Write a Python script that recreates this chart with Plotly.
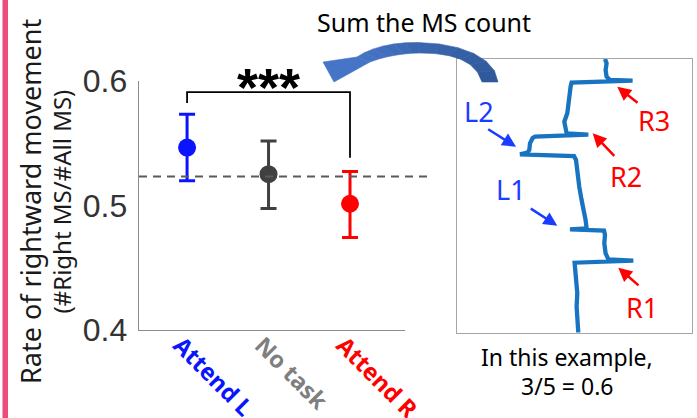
import plotly.graph_objects as go

# ---------------- data ----------------
categories = ["Attend L", "No task", "Attend R"]
cat_colors = ["#0a14ff", "#7f7f7f", "#ff0000"]
marker_colors = ["#0a14ff", "#404040", "#ff0000"]
means = [0.5465, 0.5252, 0.5014]
err_hi = [0.5733, 0.5519, 0.5273]
err_lo = [0.5198, 0.4976, 0.4743]
baseline = 0.5233
y_ticks = [0.4, 0.5, 0.6]
bracket_y = 0.591
bracket_left_end = 0.5824
bracket_right_end = 0.5383

# example eye trace (horizontal position vs time, arbitrary units)
trace_x = [121, 120, 119.3, 120, 118.7, 118, 117.3, 176, 151, 148.3, 147, 147.7, 146.7,
           112.7, 129.3, 128.3, 126, 124.3, 122, 120, 118.7, 116.7, 62.7, 70, 72, 72.7,
           75.3, 77.7, 131, 109.3, 107.7, 107, 110, 111, 112.7, 113.3, 114.3, 175.3,
           152.7, 149.3, 148.3, 149.3, 147.7]
trace_t = [273.7, 261, 247.7, 234.3, 221, 211, 203.7, 201.7, 200.3, 194.3, 184.3, 176,
           171.7, 170.3, 169.3, 161, 151, 141, 128, 114.3, 101, 97, 95.3, 93.7, 91, 84.3,
           79, 77.7, 75.7, 74.3, 68.3, 62.7, 54.3, 44.3, 34.3, 27.7, 23.7, 21.7, 21,
           17.7, 11, 4.3, 0]

W, H = 697, 418
def px(x):
    return x / W
def py(y):
    return 1 - y / H

fig = go.Figure()

xpos = [1, 2, 3]
for i in range(3):
    fig.add_trace(go.Scatter(
        x=[xpos[i]], y=[means[i]], mode="markers",
        marker=dict(size=18, color=marker_colors[i]),
        error_y=dict(type="data", symmetric=False,
                     array=[err_hi[i] - means[i]], arrayminus=[means[i] - err_lo[i]],
                     color=marker_colors[i], thickness=3, width=8),
        showlegend=False, hoverinfo="skip", xaxis="x", yaxis="y"))

fig.add_trace(go.Scatter(x=trace_x, y=trace_t, mode="lines",
                         line=dict(color="#1874c0", width=4.3),
                         showlegend=False, hoverinfo="skip", xaxis="x2", yaxis="y2"))

ticktext = [f'<span style="color:{c}">{t}</span>' for t, c in zip(categories, cat_colors)]

fig.update_layout(
    template="none",
    width=W, height=H,
    margin=dict(l=0, r=0, t=0, b=0, pad=0, autoexpand=False),
    showlegend=False,
    paper_bgcolor="white", plot_bgcolor="rgba(0,0,0,0)",
    xaxis=dict(domain=[px(139), px(405)], range=[0.41, 3.675], automargin=False,
               tickvals=xpos, ticktext=ticktext, tickangle=45,
               ticklabelshift=-7, ticklabelstandoff=-9,
               tickfont=dict(family="Noto Sans", size=23.5, weight="bold"),
               showline=True, linecolor="#8c8c8c", linewidth=1.3,
               showgrid=False, zeroline=False, ticks="", anchor="y"),
    yaxis=dict(domain=[py(330), py(81)], range=[0.4, 0.6], automargin=False,
               tickvals=y_ticks, ticktext=[f"{v:.1f}" for v in y_ticks],
               ticklabelstandoff=4,
               tickfont=dict(family="Liberation Sans", size=32, color="#333333"),
               showline=True, linecolor="#8c8c8c", linewidth=1.3,
               showgrid=False, zeroline=False, ticks="", anchor="x"),
    xaxis2=dict(domain=[px(457.3), px(691.7)], range=[0, 234.4], anchor="y2", automargin=False,
                showline=True, mirror=True, linecolor="#a6a6a6", linewidth=1,
                showticklabels=False, ticks="", showgrid=False, zeroline=False),
    yaxis2=dict(domain=[py(332.7), py(59)], range=[273.7, 0], anchor="x2", automargin=False,
                showline=True, mirror=True, linecolor="#a6a6a6", linewidth=1,
                showticklabels=False, ticks="", showgrid=False, zeroline=False),
)

shapes = []
# pink side bar
shapes.append(dict(type="rect", xref="paper", yref="paper", x0=px(2.5), x1=px(8), y0=0, y1=1,
                   fillcolor="#ee4b7b", line=dict(width=0), layer="above"))
# chance baseline
shapes.append(dict(type="line", xref="paper", yref="y", x0=px(139), x1=px(427),
                   y0=baseline, y1=baseline, line=dict(color="#5a5a5a", width=1.8, dash="8px,6px")))
# significance bracket
shapes.append(dict(type="path", xref="x", yref="y",
                   path=f"M 1,{bracket_left_end} L 1,{bracket_y} L 3,{bracket_y} L 3,{bracket_right_end}",
                   line=dict(color="black", width=1.8)))

# ---- curved decorative arrow with a light-to-dark gradient ----
def bez(p0, p1, p2, p3, t):
    u = 1 - t
    return (u**3 * p0[0] + 3 * u * u * t * p1[0] + 3 * u * t * t * p2[0] + t**3 * p3[0],
            u**3 * p0[1] + 3 * u * u * t * p1[1] + 3 * u * t * t * p2[1] + t**3 * p3[1])

# outer edge (head -> tail), inner edge (head -> tail), each two cubic pieces
outer = [((357, 57), (370, 48), (392, 42), (418, 42.5)),
         ((418, 42.5), (462, 43), (496, 58), (498, 82))]
inner = [((370, 62), (385, 56), (405, 53), (420, 53)),
         ((420, 53), (452, 53), (476, 60), (482, 82))]
N = 6
opts, ipts = [], []
for seg_o, seg_i in zip(outer, inner):
    for k in range(N):
        t = k / N
        opts.append(bez(*seg_o, t))
        ipts.append(bez(*seg_i, t))
opts.append(outer[-1][3])
ipts.append(inner[-1][3])

def mix(c1, c2, f):
    a = [int(c1[i:i + 2], 16) for i in (1, 3, 5)]
    b = [int(c2[i:i + 2], 16) for i in (1, 3, 5)]
    return "#" + "".join(f"{round(a[j] + (b[j] - a[j]) * f):02x}" for j in range(3))

c_head, c_tail = "#4674c6", "#2f5899"
def poly(points):
    return "M " + " L ".join(f"{px(a):.5f},{py(b):.5f}" for a, b in points) + " Z"

# head
shapes.append(dict(type="path", xref="paper", yref="paper",
                   path=poly([(357, 57), (323, 62), (334, 82), (370, 62)]),
                   fillcolor=c_head, line=dict(color=c_head, width=0.6)))
nseg = len(opts) - 1
for k in range(nseg):
    col = mix(c_head, c_tail, (k + 0.5) / nseg)
    shapes.append(dict(type="path", xref="paper", yref="paper",
                       path=poly([opts[k], opts[k + 1], ipts[k + 1], ipts[k]]),
                       fillcolor=col, line=dict(color=col, width=0.6)))
fig.update_layout(shapes=shapes)

ann = []
# y axis title
ann.append(dict(text="Rate of rightward movement", xref="paper", yref="paper",
                x=px(30), y=py(202), textangle=-90, showarrow=False,
                font=dict(family="Noto Sans", size=27, color="#1a1a1a"),
                xanchor="center", yanchor="middle"))
ann.append(dict(text="(#Right MS/#All MS)", xref="paper", yref="paper",
                x=px(61), y=py(201.5), textangle=-90, showarrow=False,
                font=dict(family="Noto Sans", size=24, color="#1a1a1a"),
                xanchor="center", yanchor="middle"))
# stars
ann.append(dict(text="<b>***</b>", xref="x", yref="paper", x=2, y=py(87),
                showarrow=False, font=dict(family="Liberation Sans", size=54, color="black"),
                xanchor="center", yanchor="middle"))
# top text
ann.append(dict(text="Sum the MS count", xref="paper", yref="paper", x=px(315), y=py(22),
                showarrow=False, font=dict(family="Noto Sans", size=25, color="black"),
                xanchor="left", yanchor="middle"))
# bottom text
ann.append(dict(text="In this example,", xref="paper", yref="paper", x=px(567), y=py(357),
                showarrow=False, font=dict(family="Noto Sans", size=23, color="black"),
                xanchor="center", yanchor="middle"))
ann.append(dict(text="3/5 = 0.6", xref="paper", yref="paper", x=px(567), y=py(385.5),
                showarrow=False, font=dict(family="Noto Sans", size=23, color="black"),
                xanchor="center", yanchor="middle"))

# inset labels
blue = "#1a3cff"
red = "#ff0000"
labels = [("L2", 479, 111, blue), ("L1", 510.7, 189.7, blue),
          ("R3", 654.3, 120.7, red), ("R2", 626, 176.7, red), ("R1", 641.7, 307, red)]
for t, x, y, c in labels:
    ann.append(dict(text=t, xref="paper", yref="paper", x=px(x), y=py(y), showarrow=False,
                    font=dict(family="Noto Sans", size=27, color=c),
                    xanchor="center", yanchor="middle"))
arrows = [((486.7, 128.3), (516, 146.7), blue),
          ((529.3, 207.7), (557.3, 225.7), blue),
          ((639, 104), (617.3, 86.7), red),
          ((615.7, 157.3), (592.7, 133.3), red),
          ((640, 286.7), (618.3, 267.7), red)]
for (tx, ty), (hx, hy), c in arrows:
    ann.append(dict(text="", xref="paper", yref="paper", x=px(hx), y=py(hy),
                    ax=tx - hx, ay=ty - hy, axref="pixel", ayref="pixel",
                    showarrow=True, arrowhead=2, arrowsize=1.1, arrowwidth=2.5,
                    arrowcolor=c, standoff=0))
fig.update_layout(annotations=ann)

fig.write_html("out.html", config={"displayModeBar": False, "staticPlot": True},
               post_script="document.body.style.margin='0';document.body.style.overflow='hidden';")
